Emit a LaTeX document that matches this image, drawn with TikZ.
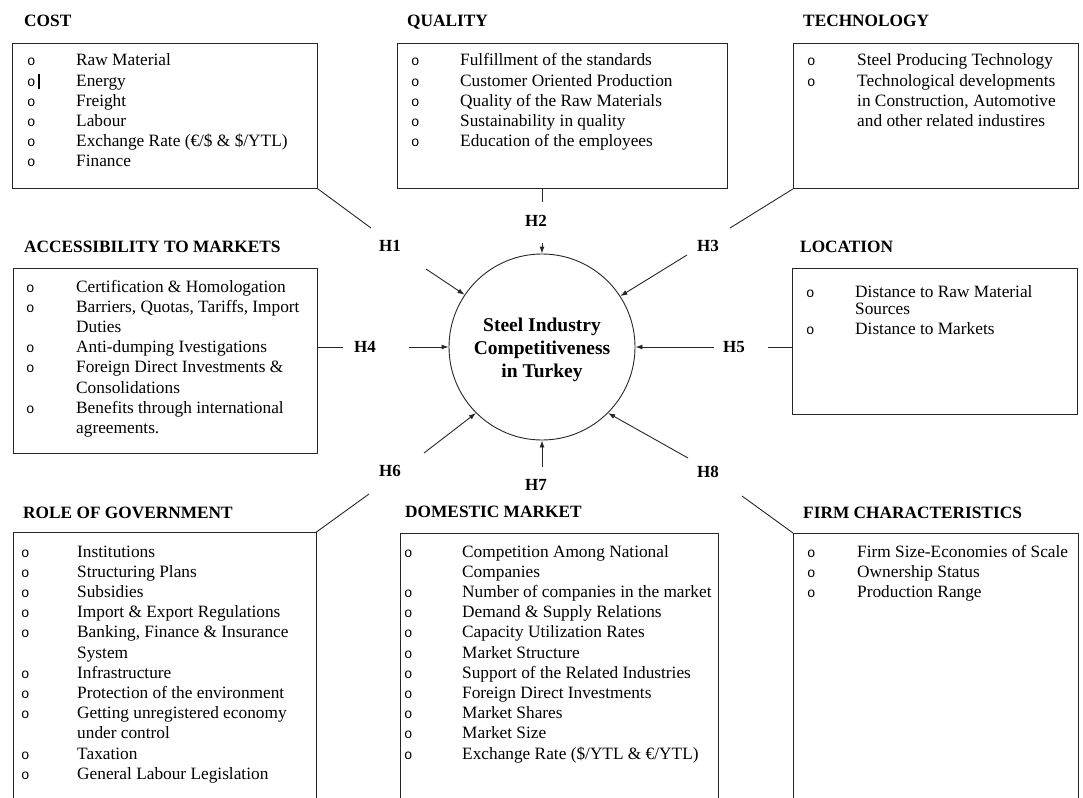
\documentclass[tikz,border=0pt]{standalone}
\usepackage{fontspec}
\setmainfont{Liberation Serif}
\newfontfamily\bulfont{Liberation Mono}
\usetikzlibrary{arrows.meta}
\newlength{\bw}
\newcommand{\bi}{\makebox[\bw][l]{\bulfont\fontsize{14}{14}\selectfont o}}
\newcommand{\ci}{\hspace*{\bw}}
\tikzset{
  boxshape/.style={anchor=north west, inner sep=0pt, draw=black!85, line width=0.9pt},
  openbox/.style={anchor=north west, inner sep=0pt},
  listtext/.style={anchor=base west, inner sep=0pt, font=\fontsize{17.3}{20.2}\selectfont},
  titletext/.style={anchor=base west, inner sep=0pt, font=\bfseries\fontsize{17.3}{20}\selectfont},
  hlabel/.style={inner sep=0pt, font=\bfseries\fontsize{17}{20}\selectfont},
  conn/.style={line width=0.9pt, draw=black!85},
  arr/.style={line width=0.9pt, draw=black!85, -{Latex[length=7pt,width=5pt]}}
}
\begin{document}
\begin{tikzpicture}[x=1pt,y=-1pt]
\useasboundingbox (0,0) rectangle (1083,797);

% ---------- boxes ----------
\node[boxshape, minimum width=305pt, minimum height=145pt] (cost) at (12,43) {};
\node[boxshape, minimum width=330pt, minimum height=145pt] (qual) at (397,43) {};
\node[boxshape, minimum width=285pt, minimum height=145pt] (tech) at (793,43) {};
\node[boxshape, minimum width=304pt, minimum height=185pt] (acc) at (13,268) {};
\node[boxshape, minimum width=285pt, minimum height=146pt] (loc) at (792,268) {};
\node[openbox, minimum width=303pt, minimum height=266pt] (role) at (13,532) {};
\node[openbox, minimum width=318pt, minimum height=265pt] (dom) at (400,533) {};
\node[openbox, minimum width=285pt, minimum height=265pt] (firm) at (793,533) {};
\draw[conn] (role.south west) -- (role.north west) -- (role.north east) -- (role.south east);
\draw[conn] (dom.south west) -- (dom.north west) -- (dom.north east) -- (dom.south east);
\draw[conn] (firm.south west) -- (firm.north west) -- (firm.north east) -- (firm.south east);

% ---------- titles ----------
\node[titletext] (tcost) at (24,27) {COST};
\node[titletext] (tqual) at (407,27) {QUALITY};
\node[titletext] (ttech) at (803,27) {TECHNOLOGY};
\node[titletext] (tacc) at (24,252) {ACCESSIBILITY TO MARKETS};
\node[titletext] (tloc) at (800,252) {LOCATION};
\node[titletext] (trole) at (23,518) {ROLE OF GOVERNMENT};
\node[titletext] (tdom) at (405,517) {DOMESTIC MARKET};
\node[titletext] (tfirm) at (803,518) {FIRM CHARACTERISTICS};

% ---------- lists ----------
\node[listtext] (lcost) at (27,66) {\setlength{\bw}{49pt}\begin{tabular}[t]{@{}l@{}}
\bi Raw Material\\
\bi Energy\\
\bi Freight\\
\bi Labour\\
\bi Exchange Rate (€/\$ \& \$/YTL)\\
\bi Finance
\end{tabular}};
\draw[line width=1.6pt] (39,74) -- (39,89);

\node[listtext] (lqual) at (411,66) {\setlength{\bw}{49pt}\begin{tabular}[t]{@{}l@{}}
\bi Fulfillment of the standards\\
\bi Customer Oriented Production\\
\bi Quality of the Raw Materials\\
\bi Sustainability in quality\\
\bi Education of the employees
\end{tabular}};

\node[listtext] (ltech) at (807,66) {\setlength{\bw}{50pt}\begin{tabular}[t]{@{}l@{}}
\bi Steel Producing Technology\\
\bi Technological developments\\
\ci in Construction, Automotive\\
\ci and other related industires
\end{tabular}};

\node[listtext] (lacc) at (26,292) {\setlength{\bw}{50pt}\begin{tabular}[t]{@{}l@{}}
\bi Certification \& Homologation\\
\bi Barriers, Quotas, Tariffs, Import\\
\ci Duties\\
\bi Anti-dumping Ivestigations\\
\bi Foreign Direct Investments \&\\
\ci Consolidations\\
\bi Benefits through international\\
\ci agreements.
\end{tabular}};

\node[listtext] (lloc) at (806,297) {\setlength{\bw}{49pt}\begin{tabular}[t]{@{}l@{}}
\bi Distance to Raw Material\\[-3pt]
\ci Sources\\
\bi Distance to Markets
\end{tabular}};

\node[listtext] (lrole) at (21,557) {\setlength{\bw}{56pt}\begin{tabular}[t]{@{}l@{}}
\bi Institutions\\
\bi Structuring Plans\\
\bi Subsidies\\
\bi Import \& Export Regulations\\
\bi Banking, Finance \& Insurance\\
\ci System\\
\bi Infrastructure\\
\bi Protection of the environment\\
\bi Getting unregistered economy\\
\ci under control\\
\bi Taxation\\
\bi General Labour Legislation
\end{tabular}};

\node[listtext] (ldom) at (404,557) {\setlength{\bw}{58pt}\begin{tabular}[t]{@{}l@{}}
\bi Competition Among National\\
\ci Companies\\
\bi Number of companies in the market\\
\bi Demand \& Supply Relations\\
\bi Capacity Utilization Rates\\
\bi Market Structure\\
\bi Support of the Related Industries\\
\bi Foreign Direct Investments\\
\bi Market Shares\\
\bi Market Size\\
\bi Exchange Rate (\$/YTL \& €/YTL)
\end{tabular}};

\node[listtext] (lfirm) at (807,557) {\setlength{\bw}{50pt}\begin{tabular}[t]{@{}l@{}}
\bi Firm Size-Economies of Scale\\
\bi Ownership Status\\
\bi Production Range
\end{tabular}};

% ---------- centre ----------
\node[circle, draw=black!85, line width=0.9pt, minimum size=186pt, inner sep=0pt] (circ) at (542,347) {};
\node[inner sep=0pt, align=center, font=\bfseries\fontsize{19.5}{23}\selectfont] (ctext) at (542,350) {Steel Industry\\Competitiveness\\in Turkey};

% ---------- hypothesis labels ----------
\node[hlabel] (h1) at (390,246) {H1};
\node[hlabel] (h2) at (536,221) {H2};
\node[hlabel] (h3) at (708,246) {H3};
\node[hlabel] (h4) at (365,347) {H4};
\node[hlabel] (h5) at (734,347) {H5};
\node[hlabel] (h6) at (390,471) {H6};
\node[hlabel] (h7) at (536,485) {H7};
\node[hlabel] (h8) at (708,472) {H8};

% ---------- connector end points ----------
\coordinate (l1) at (371,228);  \coordinate (a1) at (426,269);
\coordinate (l2) at (542,202);  \coordinate (a2) at (542,243);
\coordinate (l3) at (730,228);  \coordinate (a3) at (687,255);
\coordinate (l4) at (343,347);  \coordinate (a4) at (409,347);
\coordinate (l5) at (768,347);  \coordinate (a5) at (714,347);
\coordinate (l6) at (369,494);  \coordinate (a6) at (424,453);
                                \coordinate (a7) at (542,467);
\coordinate (l8) at (742,496);  \coordinate (a8) at (688,458);

% ---------- connectors ----------
\draw[conn] (cost.south east) -- (l1);
\draw[arr] (a1) -- (circ.146);
\draw[conn] (qual.south -| l2) -- (l2);
\draw[arr] (a2) -- (circ.90);
\draw[conn] (tech.south west) -- (l3);
\draw[arr] (a3) -- (circ.33);
\draw[conn] (acc.east |- l4) -- (l4);
\draw[arr] (a4) -- (circ.180);
\draw[conn] (loc.west |- l5) -- (l5);
\draw[arr] (a5) -- (circ.0);
\draw[conn] (role.north east) -- (l6);
\draw[arr] (a6) -- (circ.225);
\draw[arr] (a7) -- (circ.270);
\draw[conn] (firm.north west) -- (l8);
\draw[arr] (a8) -- (circ.-45);
\end{tikzpicture}
\end{document}
